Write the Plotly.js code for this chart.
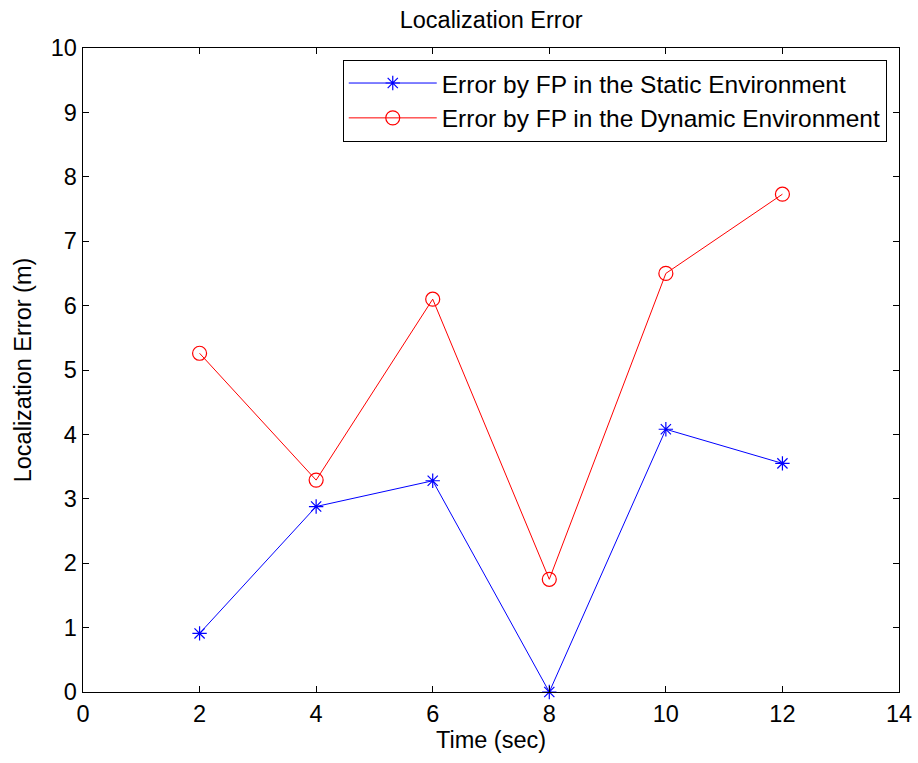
<!DOCTYPE html>
<html>
<head>
<meta charset="utf-8">
<script src="https://cdn.plot.ly/plotly-3.0.1.min.js"></script>
<style>html,body{margin:0;padding:0;background:#fff;}#chart{width:918px;height:763px;}</style>
</head>
<body>
<div id="chart"></div>
<script>
const timeSec = [2, 4, 6, 8, 10, 12];
const staticError = [0.91, 2.88, 3.28, 0.0, 4.08, 3.55];
const dynamicError = [5.26, 3.29, 6.10, 1.75, 6.50, 7.73];
const xTicks = [0, 2, 4, 6, 8, 10, 12, 14];
const yTicks = [0, 1, 2, 3, 4, 5, 6, 7, 8, 9, 10];
const seriesNames = ['Error by FP in the Static Environment', 'Error by FP in the Dynamic Environment'];

const font = {family: '"Liberation Sans", Arial, Helvetica, sans-serif', color: '#000'};
const fs = 23.5;

const traces = [
  {
    x: timeSec, y: staticError, name: seriesNames[0], type: 'scatter', mode: 'lines+markers',
    line: {color: '#0000ff', width: 1},
    marker: {symbol: 'asterisk-open', size: 12, color: '#0000ff', line: {color: '#0000ff', width: 1.2}},
    cliponaxis: false
  },
  {
    x: timeSec, y: dynamicError, name: seriesNames[1], type: 'scatter', mode: 'lines+markers',
    line: {color: '#ff0000', width: 1},
    marker: {symbol: 'circle-open', size: 14, color: '#ff0000', line: {color: '#ff0000', width: 1.2}},
    cliponaxis: false
  }
];

const axisCommon = {
  showline: true, linecolor: '#000', linewidth: 1.4, mirror: 'ticks',
  ticks: 'inside', ticklen: 6, tickcolor: '#000', tickwidth: 1,
  showgrid: false, zeroline: false,
  tickfont: Object.assign({}, font, {size: fs})
};

const layout = {
  width: 918, height: 763,
  margin: {l: 83, r: 19, t: 48, b: 71},
  paper_bgcolor: '#fff', plot_bgcolor: '#fff',
  font: font,
  title: {text: 'Localization Error', font: Object.assign({}, font, {size: fs}), x: 0.535, xanchor: 'center', y: 0.974, yanchor: 'middle'},
  xaxis: Object.assign({}, axisCommon, {
    range: [0, 14], tickmode: 'array', tickvals: xTicks, ticktext: xTicks.map(String),
    title: {text: 'Time (sec)', font: Object.assign({}, font, {size: fs}), standoff: 5}
  }),
  yaxis: Object.assign({}, axisCommon, {
    range: [0, 10], tickmode: 'array', tickvals: yTicks, ticktext: yTicks.map(String),
    title: {text: 'Localization Error (m)', font: Object.assign({}, font, {size: fs}), standoff: 12}
  }),
  showlegend: true,
  legend: {
    x: 0.985, xanchor: 'right', y: 0.982, yanchor: 'top',
    bordercolor: '#000', borderwidth: 1, bgcolor: '#fff',
    font: Object.assign({}, font, {size: 24.5}),
    itemwidth: 88, tracegroupgap: 0
  }
};

Plotly.newPlot('chart', traces, layout, {displayModeBar: false, staticPlot: true});
</script>
</body>
</html>
